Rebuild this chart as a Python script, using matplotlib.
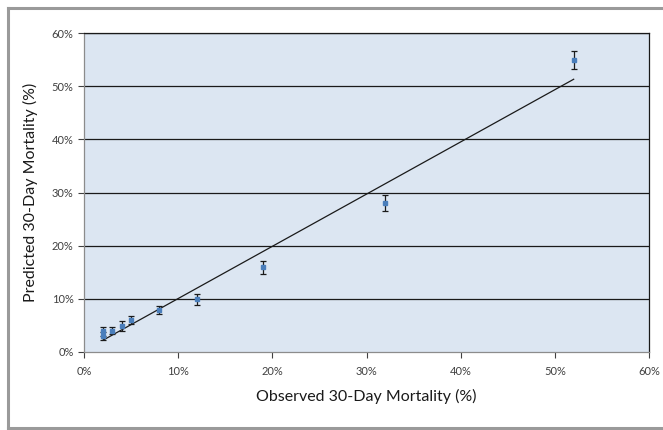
import matplotlib
matplotlib.use("Agg")
import matplotlib.pyplot as plt
from matplotlib.ticker import PercentFormatter
from matplotlib.lines import Line2D

# Data (percent)
observed = [2, 2, 3, 4, 5, 8, 12, 19, 32, 52]
predicted = [3.9, 3.0, 4.0, 4.9, 6.0, 7.9, 9.9, 15.9, 28.0, 55.0]
err = [0.8, 0.7, 0.7, 0.9, 0.8, 0.8, 1.1, 1.3, 1.5, 1.7]
line_x = [2, 52]
line_y = [2.2, 51.3]
ticks = [0, 10, 20, 30, 40, 50, 60]

plt.rcParams['font.family'] = ['Lato', 'DejaVu Sans']

W, H = 663, 430
fig = plt.figure(figsize=(W/100, H/100), dpi=100)
# outer frame: left, top, bottom edges (right edge lies outside the image)
fx0, fy0, fy1 = 8/W, 1-428/H, 1-8/H
for xs, ys in [([fx0, fx0], [fy0, fy1]), ([fx0, 1.01], [fy1, fy1]), ([fx0, 1.01], [fy0, fy0])]:
    fig.add_artist(Line2D(xs, ys, transform=fig.transFigure, color='#9a9a9a', linewidth=2.2))

ax = fig.add_axes([84/W, 1-352/H, (649-84)/W, (352-33)/H])
ax.set_facecolor('#dce6f2')

for t in ticks[1:]:
    ax.axhline(t, color='#1a1a1a', linewidth=0.9, zorder=1)

ax.plot(line_x, line_y, color='#1a1a1a', linewidth=0.9, zorder=2)
ax.errorbar(observed, predicted, yerr=err, fmt='s', color='#4a7ebb', markersize=2.2,
            ecolor='#1a1a1a', elinewidth=0.9, capsize=2.5, capthick=0.9, zorder=3)

ax.set_xlim(0, 60)
ax.set_ylim(0, 60)
ax.set_xticks(ticks)
ax.set_yticks(ticks)
ax.xaxis.set_major_formatter(PercentFormatter(decimals=0))
ax.yaxis.set_major_formatter(PercentFormatter(decimals=0))
ax.tick_params(axis='both', labelsize=8, colors='#404040', length=4, width=0.8, direction='out')
ax.tick_params(axis='x', pad=6)
for s in ['left', 'bottom']:
    ax.spines[s].set_color('#8c8c8c')
for s in ['top', 'right']:
    ax.spines[s].set_color('#1a1a1a')
for s in ax.spines.values():
    s.set_linewidth(0.9)

ax.set_xlabel('Observed 30-Day Mortality (%)', fontsize=11.5, color='#1a1a1a', labelpad=9)
ax.set_ylabel('Predicted 30-Day Mortality (%)', fontsize=11.5, color='#1a1a1a', labelpad=10)

fig.savefig('out.png', dpi=100)
